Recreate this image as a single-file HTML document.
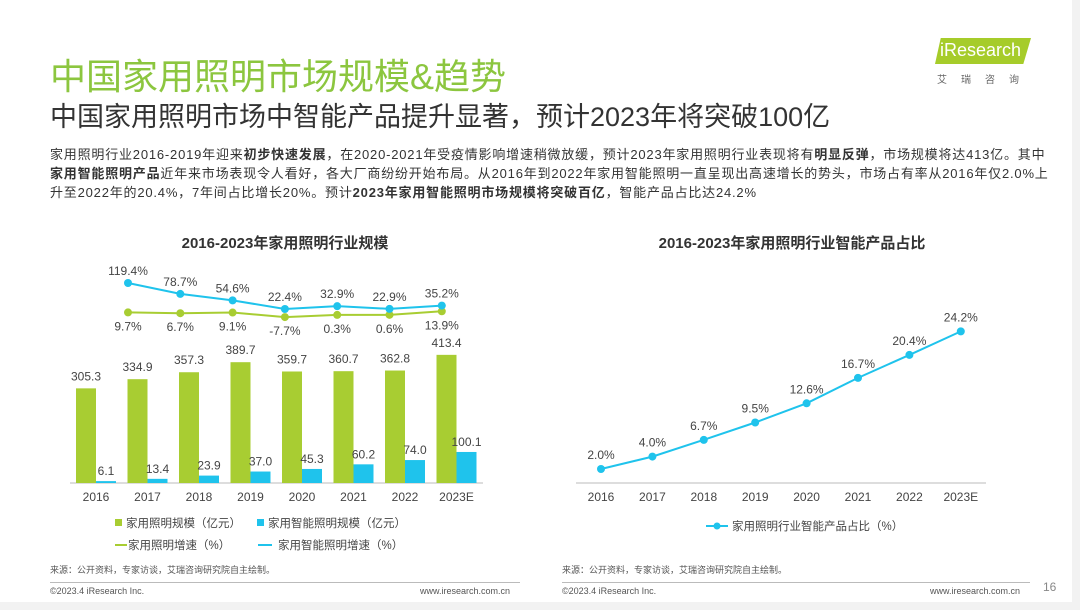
<!DOCTYPE html>
<html><head><meta charset="utf-8"><style>
body{margin:0;width:1080px;height:610px;background:#f2f2f2;font-family:"Liberation Sans","Noto Sans CJK SC",sans-serif;overflow:hidden;position:relative}
#page{position:absolute;left:0;top:0;width:1072px;height:602px;background:#fff}
.t{position:absolute;white-space:nowrap}
</style></head><body>
<div id="page">
<div class="t" style="left:50px;top:48px;font-size:36px;color:#8cc63f">中国家用照明市场规模&amp;趋势</div>
<div class="t" style="left:50px;top:95px;font-size:27px;color:#333">中国家用照明市场中智能产品提升显著，预计2023年将突破100亿</div>
<div style="position:absolute;left:50px;top:145px;width:1015px;font-size:13px;letter-spacing:0.8px;line-height:19px;color:#333;white-space:nowrap">家用照明行业2016-2019年迎来<b>初步快速发展</b>，在2020-2021年受疫情影响增速稍微放缓，预计2023年家用照明行业表现将有<b>明显反弹</b>，市场规模将达413亿。其中<br><b>家用智能照明产品</b>近年来市场表现令人看好，各大厂商纷纷开始布局。从2016年到2022年家用智能照明一直呈现出高速增长的势头，市场占有率从2016年仅2.0%上<br>升至2022年的20.4%，7年间占比增长20%。预计<b>2023年家用智能照明市场规模将突破百亿</b>，智能产品占比达24.2%</div>
<div style="position:absolute;left:935px;top:38px;width:96px;height:26px;background:#a6cc2a;clip-path:polygon(6% 0,100% 0,92% 100%,0 100%)"></div>
<div class="t" style="left:940px;top:40px;font-size:18px;color:#fff">iResearch</div>
<div class="t" style="left:937px;top:71px;font-size:10px;color:#666;letter-spacing:14px">艾瑞咨询</div>
<svg id="chart" width="1080" height="610" style="position:absolute;left:0;top:0" font-family="Liberation Sans, Noto Sans CJK SC, sans-serif"></svg>
<div style="position:absolute;left:50px;top:582px;width:470px;height:1px;background:#bbb"></div>
<div style="position:absolute;left:562px;top:582px;width:468px;height:1px;background:#bbb"></div>
<div class="t" style="left:50px;top:563px;font-size:9px;color:#555">来源：公开资料，专家访谈，艾瑞咨询研究院自主绘制。</div>
<div class="t" style="left:562px;top:563px;font-size:9px;color:#555">来源：公开资料，专家访谈，艾瑞咨询研究院自主绘制。</div>
<div class="t" style="left:50px;top:586px;font-size:9px;color:#555">©2023.4 iResearch Inc.</div>
<div class="t" style="left:420px;top:586px;font-size:9px;color:#555">www.iresearch.com.cn</div>
<div class="t" style="left:562px;top:586px;font-size:9px;color:#555">©2023.4 iResearch Inc.</div>
<div class="t" style="left:930px;top:586px;font-size:9px;color:#555">www.iresearch.com.cn</div>
<div class="t" style="left:1043px;top:580px;font-size:12px;color:#888">16</div>
</div>
<script>
const years=["2016","2017","2018","2019","2020","2021","2022","2023E"];
const marketSize=[305.3,334.9,357.3,389.7,359.7,360.7,362.8,413.4];
const smartSize=[6.1,13.4,23.9,37.0,45.3,60.2,74.0,100.1];
const marketGrowth=[9.7,6.7,9.1,-7.7,0.3,0.6,13.9];
const smartGrowth=[119.4,78.7,54.6,22.4,32.9,22.9,35.2];
const smartShare=[2.0,4.0,6.7,9.5,12.6,16.7,20.4,24.2];
const G="#a8cd32",B="#1fc3ec";
const svg=document.getElementById('chart');
function el(tag,attrs,text){const e=document.createElementNS('http://www.w3.org/2000/svg',tag);for(const k in attrs)e.setAttribute(k,attrs[k]);if(text!==undefined)e.textContent=text;svg.appendChild(e);return e;}
const bx=i=>96+i*51.5, by=v=>483-v*0.31;
const lx=i=>128+i*52.3, ly=v=>315-v*0.268;
let e=el('text',{x:285,y:248,'text-anchor':'middle','font-size':15,'font-weight':'bold',fill:'#333'},'2016-2023年家用照明行业规模');


e=el('line',{x1:70,y1:483,x2:483,y2:483,stroke:'#bbb'});


years.forEach((y,i)=>{
  let r=el('rect',{x:bx(i)-20,y:by(marketSize[i]),width:20,height:483-by(marketSize[i]),fill:G});
  
  
  let t=el('text',{x:bx(i)-10,y:by(marketSize[i])-8,'text-anchor':'middle','font-size':12,fill:'#444'},marketSize[i].toFixed(1));
  
  
  r=el('rect',{x:bx(i),y:by(smartSize[i]),width:20,height:483-by(smartSize[i]),fill:B});
  
  
  t=el('text',{x:bx(i)+10,y:by(smartSize[i])-6,'text-anchor':'middle','font-size':12,fill:'#444'},smartSize[i].toFixed(1));
  
  
  t=el('text',{x:bx(i),y:501,'text-anchor':'middle','font-size':12,fill:'#444'},y);
  
  
});
function line(arr,xf,yf,col,name){
  const p=el('polyline',{points:arr.map((v,i)=>xf(i)+','+yf(v)).join(' '),fill:'none',stroke:col,'stroke-width':2});
  
  
  arr.forEach((v,i)=>{const c=el('circle',{cx:xf(i),cy:yf(v),r:4,fill:col});
    
    });
}
line(marketGrowth,lx,ly,G,'market-growth-line');
line(smartGrowth,lx,ly,B,'smart-growth-line');
marketGrowth.forEach((v,i)=>{const t=el('text',{x:lx(i),y:ly(v)+18,'text-anchor':'middle','font-size':12,fill:'#444'},v.toFixed(1)+'%');
  
  });
smartGrowth.forEach((v,i)=>{const t=el('text',{x:lx(i),y:ly(v)-8,'text-anchor':'middle','font-size':12,fill:'#444'},v.toFixed(1)+'%');
  
  });
e=el('rect',{x:115,y:519,width:7,height:7,fill:G});


e=el('text',{x:126,y:527,'font-size':11.5,fill:'#444'},'家用照明规模（亿元）');


e=el('rect',{x:257,y:519,width:7,height:7,fill:B});


e=el('text',{x:268,y:527,'font-size':11.5,fill:'#444'},'家用智能照明规模（亿元）');


e=el('line',{x1:115,y1:545,x2:127,y2:545,stroke:G,'stroke-width':2});


e=el('text',{x:128,y:549,'font-size':11.5,fill:'#444'},'家用照明增速（%）');


e=el('line',{x1:258,y1:545,x2:272,y2:545,stroke:B,'stroke-width':2});


e=el('text',{x:278,y:549,'font-size':11.5,fill:'#444'},'家用智能照明增速（%）');


const rx=i=>601+i*51.4, ry=v=>481.4-v*6.2;
e=el('text',{x:792,y:248,'text-anchor':'middle','font-size':15,'font-weight':'bold',fill:'#333'},'2016-2023年家用照明行业智能产品占比');


e=el('line',{x1:576,y1:483,x2:986,y2:483,stroke:'#bbb'});


line(smartShare,rx,ry,B,'smart-share-line');
smartShare.forEach((v,i)=>{let t=el('text',{x:rx(i),y:ry(v)-10,'text-anchor':'middle','font-size':12,fill:'#444'},v.toFixed(1)+'%');
  
  
  t=el('text',{x:rx(i),y:501,'text-anchor':'middle','font-size':12,fill:'#444'},years[i]);
  
  });
e=el('line',{x1:706,y1:526,x2:728,y2:526,stroke:B,'stroke-width':2});


e=el('circle',{cx:717,cy:526,r:3.5,fill:B});


e=el('text',{x:732,y:530,'font-size':11.5,fill:'#444'},'家用照明行业智能产品占比（%）');


</script>
</body></html>
